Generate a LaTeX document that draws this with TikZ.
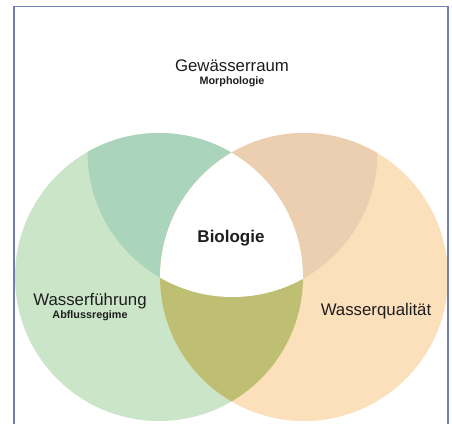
\documentclass[tikz,border=0pt]{standalone}
\usepackage{fontspec}
\setmainfont{Liberation Sans}
\definecolor{grn}{RGB}{202,229,200}
\definecolor{dgrn}{RGB}{170,212,188}
\definecolor{org}{RGB}{252,223,187}
\definecolor{dorg}{RGB}{236,206,176}
\definecolor{olv}{RGB}{190,191,114}
\definecolor{txt}{RGB}{30,30,30}
\definecolor{frm}{RGB}{115,125,178}
\begin{document}
\begin{tikzpicture}[x=1pt,y=-1pt,
  big/.style={font=\fontsize{16.8}{20}\selectfont, text=txt, inner sep=0pt, anchor=base},
  bigb/.style={font=\fontsize{17}{20}\selectfont\bfseries, text=txt, inner sep=0pt, anchor=base},
  small/.style={font=\fontsize{10.8}{13}\selectfont\bfseries, text=txt, inner sep=0pt, anchor=base}]
\useasboundingbox (0,0) rectangle (452,423);
\clip (0,0) rectangle (452,423);
\fill[white] (0,0) rectangle (452,423);
\coordinate (cl) at (159,277);
\coordinate (cr) at (304,277);
\coordinate (ct) at (232.5,152);
\fill[grn] (cl) circle[radius=144pt];
\fill[org] (cr) circle[radius=144pt];
\begin{scope}
  \clip (ct) circle[radius=145pt];
  \fill[dgrn] (cl) circle[radius=144pt];
  \fill[dorg] (cr) circle[radius=144pt];
\end{scope}
\begin{scope}
  \clip (cl) circle[radius=144pt];
  \fill[olv] (cr) circle[radius=144pt];
  \clip (ct) circle[radius=145pt];
  \fill[white] (cr) circle[radius=144pt];
\end{scope}
\node[big] (raum) at (232,71) {Gewässerraum};
\node[small] (morph) at (232,84.5) {Morphologie};
\node[bigb] (bio) at (231,242.5) {Biologie};
\node[big] (fuehr) at (90,305.5) {Wasserführung};
\node[small] (abfl) at (90,318.5) {Abflussregime};
\node[big] (qual) at (376,315) {Wasserqualität};
\draw[frm, line width=1.6pt] (14,6.5) rectangle (448,440);
\end{tikzpicture}
\end{document}
